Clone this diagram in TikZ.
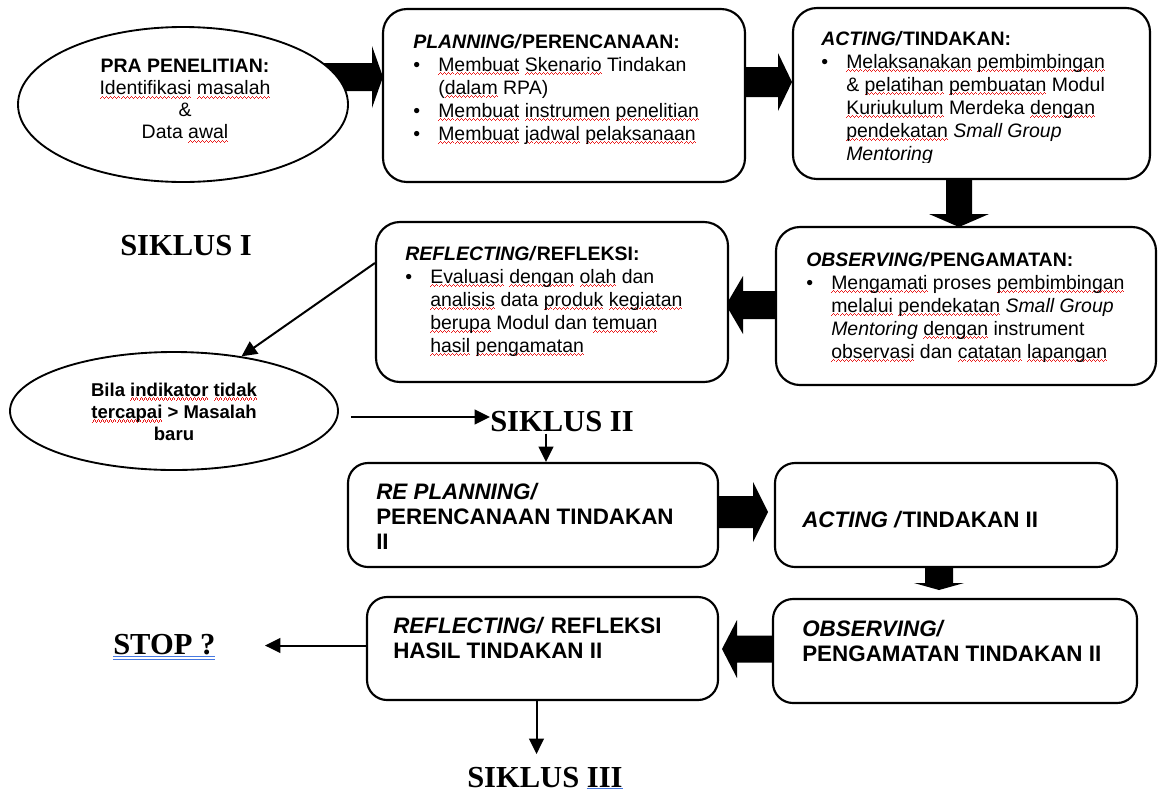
\documentclass[tikz,border=0pt]{standalone}
\usepackage{fontspec}
\setmainfont{Liberation Sans}
\newfontfamily\tnr{Liberation Serif}
\usetikzlibrary{arrows.meta,shapes.geometric}
\definecolor{ulblue}{RGB}{70,120,225}
\definecolor{sqred}{RGB}{235,30,30}
\newcommand\wv{\rule[-3.0pt]{0.75pt}{0.8pt}\rule[-2.2pt]{0.75pt}{0.8pt}\rule[-1.4pt]{0.75pt}{0.8pt}\rule[-2.2pt]{0.75pt}{0.8pt}}
\newcommand\sq[1]{{\setbox0\hbox{#1}\rlap{\color{sqred}\hbox to\wd0{\xleaders\hbox{\wv}\hfil}}\box0}}
\newcommand\dbl[1]{{\setbox0\hbox{#1}\rlap{\color{ulblue}\rule[-2.6pt]{\wd0}{0.75pt}}\rlap{\color{ulblue}\rule[-4.6pt]{\wd0}{0.75pt}}\box0}}
\newcommand\sgl[1]{{\setbox0\hbox{#1}\rlap{\color{ulblue}\rule[-1.6pt]{\wd0}{0.75pt}}\box0}}
\newcommand\TL[1]{\hbox{#1}}
\newcommand\BL[1]{\hbox{\makebox[18.75pt][l]{\textbullet}#1}}
\newcommand\CL[1]{\hbox{\hspace*{18.75pt}#1}}
% horizontal block arrow: start x, tip x, centre y, head length (signed), body half, head half
\newcommand\harr[6]{\fill ({#1},{#3-#5}) -- ({#2-(#4)},{#3-#5}) -- ({#2-(#4)},{#3-#6}) -- ({#2},{#3}) -- ({#2-(#4)},{#3+#6}) -- ({#2-(#4)},{#3+#5}) -- ({#1},{#3+#5}) -- cycle;}
% vertical block arrow: start y, tip y, centre x, head length, body half, head half
\newcommand\varr[6]{\fill ({#3-#5},{#1}) -- ({#3-#5},{#2-(#4)}) -- ({#3-#6},{#2-(#4)}) -- ({#3},{#2}) -- ({#3+#6},{#2-(#4)}) -- ({#3+#5},{#2-(#4)}) -- ({#3+#5},{#1}) -- cycle;}
\tikzset{
  box/.style={draw, line width=1.6pt, rounded corners=18pt, fill=white, inner sep=0pt},
  lbox/.style={draw, line width=1.6pt, rounded corners=15pt, fill=white, inner sep=0pt},
  ell/.style={draw, ellipse, line width=1.4pt, fill=white, inner sep=0pt},
  ut/.style={inner sep=0pt, anchor=base west, font=\fontsize{14.6}{17.25}\selectfont},
  lt/.style={inner sep=0pt, anchor=base west, font=\bfseries\fontsize{16.8}{19.1}\selectfont},
  lbl/.style={inner sep=0pt, anchor=base west, font=\tnr\fontsize{22.9}{27}\selectfont\bfseries},
  arr/.style={line width=1.5pt, -{Triangle[length=11.5pt,width=11pt]}},
}
\begin{document}
\begin{tikzpicture}[x=0.75pt,y=-0.75pt]
\useasboundingbox (0,0) rectangle (1160,793);
\fill[white] (0,0) rectangle (1160,793);

% block arrows (drawn first, boxes cover their tails)
\harr{300}{383}{77}{11}{14}{31}
\harr{740}{792}{82}{14}{15}{29}
\varr{170}{227}{959}{13}{13}{30}
\harr{790}{726}{305}{-17}{14}{29}
\harr{710}{768}{512}{15}{16}{30}
\varr{560}{590}{939}{7}{14}{25}
\harr{780}{722}{649}{-15}{13.5}{29}

% shapes
\node[ell, minimum width=247.5pt, minimum height=116.25pt] (ell1) at (183,104.5) {};
\node[ell, minimum width=246pt, minimum height=88.5pt] (ell2) at (174,411) {};
\node[box, minimum width=271.5pt, minimum height=129.75pt] (pl) at (564,95.5) {};
\node[box, minimum width=267.75pt, minimum height=128.25pt] (ac) at (971.5,93.5) {};
\node[box, minimum width=285pt, minimum height=118.5pt] (ob) at (966,306) {};
\node[box, minimum width=264pt, minimum height=120pt] (rf) at (552,302) {};
\node[lbox, minimum width=277.5pt, minimum height=78pt] (rp) at (533,515) {};
\node[lbox, minimum width=256.5pt, minimum height=78pt] (ac2) at (946,515) {};
\node[lbox, minimum width=273pt, minimum height=78pt] (ob2) at (955,651) {};
\node[lbox, minimum width=263.25pt, minimum height=77.25pt] (rf2) at (542.5,648.5) {};

% texts
\node[inner sep=0pt, align=center, font=\fontsize{14.6}{16.5}\selectfont] (e1t) at (185,101)
  {\textbf{PRA PENELITIAN:}\\ \sq{Identifikasi} \sq{masalah}\\ \&\\ Data \sq{awal}};
\node[inner sep=0pt, align=center, font=\bfseries\fontsize{13.9}{16.5}\selectfont] (e2t) at (174,412)
  {Bila \sq{indikator} \sq{tidak}\\ \sq{tercapai} > Masalah\\ baru};

\node[ut] (plt) at (413,48) {\vtop{
  \TL{\textbf{\textit{PLANNING/}PERENCANAAN:}}
  \BL{\sq{Membuat} \sq{Skenario} Tindakan}
  \CL{(\sq{dalam} RPA)}
  \BL{\sq{Membuat} \sq{instrumen} \sq{penelitian}}
  \BL{\sq{Membuat} \sq{jadwal} \sq{pelaksanaan}}}};

\begin{scope}
\clip (780,0) rectangle (1160,162);
\node[ut] (act) at (821,45) {\vtop{
  \TL{\textbf{\textit{ACTING/}TINDAKAN:}}
  \BL{\sq{Melaksanakan} \sq{pembimbingan}}
  \CL{\& \sq{pelatihan} \sq{pembuatan} Modul}
  \CL{\sq{Kuriukulum} Merdeka \sq{dengan}}
  \CL{\sq{pendekatan} \textit{Small Group}}
  \CL{\textit{Mentoring}}}};
\end{scope}

\node[ut] (obt) at (806,266) {\vtop{
  \TL{\textbf{\textit{OBSERVING/}PENGAMATAN:}}
  \BL{\sq{Mengamati} proses \sq{pembimbingan}}
  \CL{\sq{melalui} \sq{pendekatan} \textit{Small Group}}
  \CL{\textit{Mentoring} \sq{dengan} instrument}
  \CL{\sq{observasi} dan \sq{catatan} \sq{lapangan}}}};

\node[ut] (rft) at (405,260) {\vtop{
  \TL{\textbf{\textit{REFLECTING/}REFLEKSI:}}
  \BL{\sq{Evaluasi} \sq{dengan} \sq{olah} dan}
  \CL{\sq{analisis} data \sq{produk} \sq{kegiatan}}
  \CL{\sq{berupa} Modul dan \sq{temuan}}
  \CL{\sq{hasil} \sq{pengamatan}}}};

\node[lt] (rpt) at (376,499) {\vtop{
  \TL{\textit{RE PLANNING/}}
  \TL{PERENCANAAN TINDAKAN}
  \TL{II}}};
\node[lt] (ac2t) at (802,527) {\textit{ACTING /}TINDAKAN II};
\node[lt] (ob2t) at (802,636) {\vtop{
  \TL{\textit{OBSERVING/}}
  \TL{PENGAMATAN TINDAKAN II}}};
\node[lt] (rf2t) at (393,633) {\vtop{
  \TL{\textit{REFLECTING/} REFLEKSI}
  \TL{HASIL TINDAKAN II}}};

% labels
\node[lbl] (s1) at (120,255) {SIKLUS I};
\node[lbl] (s2) at (490,431) {SIKLUS II};
\node[lbl] (stop) at (113,654) {\dbl{STOP ?}};
\node[lbl] (s3) at (467,787) {SIKLUS \sgl{III}};

% thin connectors
\draw[arr] (rf.west) ++(0,-39) -- (ell2.39);
\draw[arr] (ell2.east) ++(12,6) -- (s2.west |- 0,417);
\coordinate (t3) at ([shift={(-16,2)}]s2.south);
\draw[arr] (t3) -- (t3 |- rp.north);
\draw[arr] (rf2.west) ++(0,-3) -- ++(-101,0);
\draw[arr] (rf2.south) ++(-6,0) -- ++(0,53);
\end{tikzpicture}
\end{document}
